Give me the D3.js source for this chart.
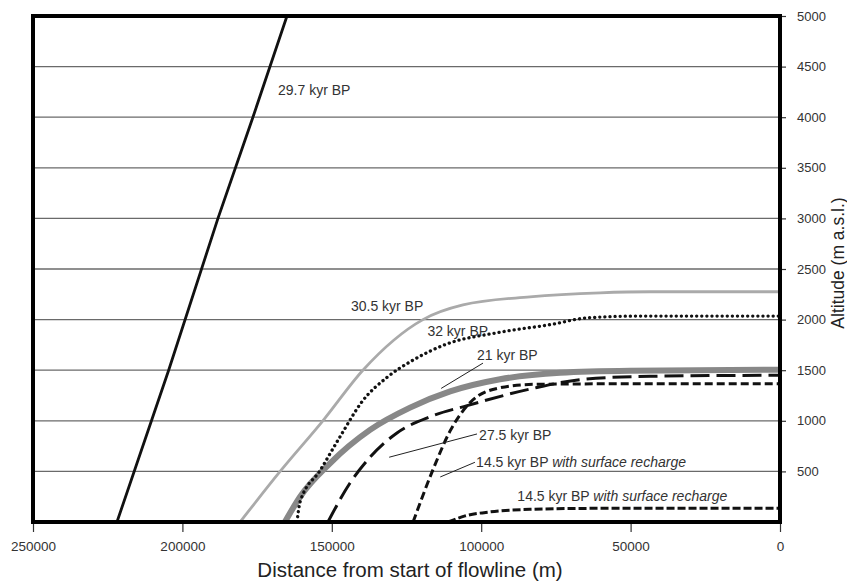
<!DOCTYPE html>
<html>
<head>
<meta charset="utf-8">
<script src="https://cdn.jsdelivr.net/npm/d3@7"></script>
<style>
  body { margin: 0; background: #fff; }
  svg { font-family: "Liberation Sans", Arial, sans-serif; }
</style>
</head>
<body>
<div id="vis"></div>
<script>
// Profiles: [distance from start of flowline (m), altitude (m a.s.l.)]
const profile297 = [[221900, 0], [204600, 1500], [188100, 3000], [176400, 4000], [165000, 5000]];
const profile305 = [[180700, 0], [167300, 500], [153000, 1000], [139600, 1500], [119500, 2000],
  [106100, 2145], [83700, 2225], [60200, 2265], [43500, 2275], [0, 2275]];
const profile32 = [[161650, 0], [160600, 200], [153900, 510], [147300, 840], [139600, 1200],
  [131500, 1430], [122800, 1600], [111400, 1760], [94700, 1870], [77000, 1950],
  [63600, 2020], [46900, 2035], [0, 2035]];
const profile21 = [[165700, 0], [160600, 250], [150600, 580], [137200, 910], [123800, 1130],
  [110400, 1290], [93700, 1410], [73600, 1475], [50200, 1495], [0, 1505]];
const profile275 = [[151300, 0], [143900, 385], [137200, 640], [128200, 880], [117100, 1040],
  [104700, 1150], [82700, 1320], [65900, 1410], [43500, 1440], [0, 1450]];
const profile145a = [[122800, 0], [116100, 520], [110400, 900], [103700, 1180], [94700, 1320],
  [82700, 1360], [60200, 1365], [0, 1365]];
const profile145b = [[111100, 0], [105400, 60], [97000, 100], [83700, 125], [60200, 135], [0, 135]];

const xTicks = [250000, 200000, 150000, 100000, 50000, 0];
const yTicks = [500, 1000, 1500, 2000, 2500, 3000, 3500, 4000, 4500, 5000];

// Label text, anchor point [distance, altitude] and optional leader end point
const labels = [
  { main: "29.7 kyr BP", at: [168000, 4220] },
  { main: "30.5 kyr BP", at: [143600, 2085] },
  { main: "32 kyr BP", at: [118000, 1840] },
  { main: "21 kyr BP", at: [101400, 1600], from: [99400, 1570], to: [113400, 1320] },
  { main: "27.5 kyr BP", at: [100700, 810], from: [101400, 870], to: [130800, 640] },
  { main: "14.5 kyr BP ", italic: "with surface recharge", at: [101700, 545],
    from: [102100, 590], to: [113700, 445] },
  { main: "14.5 kyr BP ", italic: "with surface recharge", at: [87900, 210] }
];

const W = 847, H = 582;
const plotLeft = 33, plotRight = 780, plotTop = 16, plotBottom = 522;

const svg = d3.select("#vis").append("svg")
  .attr("width", W)
  .attr("height", H);

let x = d3.scaleLinear().domain([250000, 0]).range([plotLeft, plotRight]);
let y = d3.scaleLinear().domain([0, 5000]).range([plotBottom, plotTop]);

// clip for profiles
svg.append("clipPath").attr("id", "clip")
  .append("rect")
  .attr("x", plotLeft).attr("y", plotTop)
  .attr("width", plotRight - plotLeft).attr("height", plotBottom - plotTop);

// Horizontal grid lines
svg.append("g")
  .selectAll("line")
  .data(yTicks.filter(d => d < 5000))
  .enter().append("line")
    .attr("x1", plotLeft).attr("x2", plotRight)
    .attr("y1", d => y(d)).attr("y2", d => y(d))
    .attr("stroke", "#6a6a6a")
    .attr("stroke-width", 1.3);

// X axis
let xAxis = svg.append("g")
  .attr("transform", "translate(0," + plotBottom + ")")
  .call(d3.axisBottom(x).tickValues(xTicks).tickFormat(d3.format("d")).tickSize(10).tickPadding(9));
xAxis.select(".domain").remove();
xAxis.selectAll("line").attr("stroke", "#333").attr("stroke-width", 1.2);
xAxis.selectAll("text").style("font-size", "13.5px").attr("fill", "#333")
  .style("font-family", "'Liberation Sans', Arial, sans-serif");

// Y axis (right)
let yAxis = svg.append("g")
  .attr("transform", "translate(" + plotRight + ",0)")
  .call(d3.axisRight(y).tickValues(yTicks).tickFormat(d3.format("d")).tickSize(6).tickPadding(11));
yAxis.select(".domain").remove();
yAxis.selectAll("line").attr("stroke", "#333").attr("stroke-width", 1.2);
yAxis.selectAll("text").style("font-size", "13px").attr("fill", "#333")
  .style("font-family", "'Liberation Sans', Arial, sans-serif");

// Axis titles
svg.append("text")
  .attr("x", 410)
  .attr("y", 577)
  .style("text-anchor", "middle")
  .style("font-size", "20.5px")
  .attr("fill", "#222")
  .text("Distance from start of flowline (m)");

svg.append("text")
  .attr("transform", "translate(838," + ((plotTop + plotBottom) / 2 - 6) + ") rotate(-90)")
  .attr("dy", "0.35em")
  .style("text-anchor", "middle")
  .style("font-size", "17.5px")
  .attr("fill", "#222")
  .text("Altitude (m a.s.l.)");

// Profiles
let line = d3.line()
  .x(d => x(d[0]))
  .y(d => y(d[1]))
  .curve(d3.curveMonotoneX);

let profiles = [
  { data: profile305, color: "#aaaaaa", width: 2.8, dash: null },
  { data: profile21, color: "#888888", width: 6, dash: null },
  { data: profile32, color: "#111", width: 3.3, dash: "0.1,5", cap: "round" },
  { data: profile275, color: "#111", width: 3, dash: "19,7" },
  { data: profile145a, color: "#111", width: 3, dash: "8,4" },
  { data: profile145b, color: "#111", width: 3, dash: "8,3" }
];

let plot = svg.append("g").attr("clip-path", "url(#clip)");

plot.selectAll(".profile")
  .data(profiles)
  .enter().append("path")
    .attr("class", "profile")
    .attr("d", d => line(d.data))
    .attr("fill", "none")
    .attr("stroke", d => d.color)
    .attr("stroke-width", d => d.width)
    .attr("stroke-dasharray", d => d.dash)
    .attr("stroke-linecap", d => d.cap || "butt");

// 29.7 kyr line is almost straight
plot.append("path")
  .attr("d", d3.line().x(d => x(d[0])).y(d => y(d[1]))(profile297))
  .attr("fill", "none")
  .attr("stroke", "#111")
  .attr("stroke-width", 2.8);

// Labels + leader lines
let lab = svg.append("g");

lab.selectAll("line")
  .data(labels.filter(d => d.from))
  .enter().append("line")
    .attr("x1", d => x(d.from[0])).attr("y1", d => y(d.from[1]))
    .attr("x2", d => x(d.to[0])).attr("y2", d => y(d.to[1]))
    .attr("stroke", "#222")
    .attr("stroke-width", 1);

let t = lab.selectAll("text")
  .data(labels)
  .enter().append("text")
    .attr("x", d => x(d.at[0]))
    .attr("y", d => y(d.at[1]))
    .style("font-size", "14px")
    .attr("fill", "#333");

t.append("tspan").text(d => d.main);
t.filter(d => d.italic).append("tspan")
  .style("font-style", "italic")
  .text(d => d.italic);

// Frame
svg.append("rect")
  .attr("x", plotLeft).attr("y", plotTop)
  .attr("width", plotRight - plotLeft).attr("height", plotBottom - plotTop)
  .attr("fill", "none")
  .attr("stroke", "#000")
  .attr("stroke-width", 4);
</script>
</body>
</html>
